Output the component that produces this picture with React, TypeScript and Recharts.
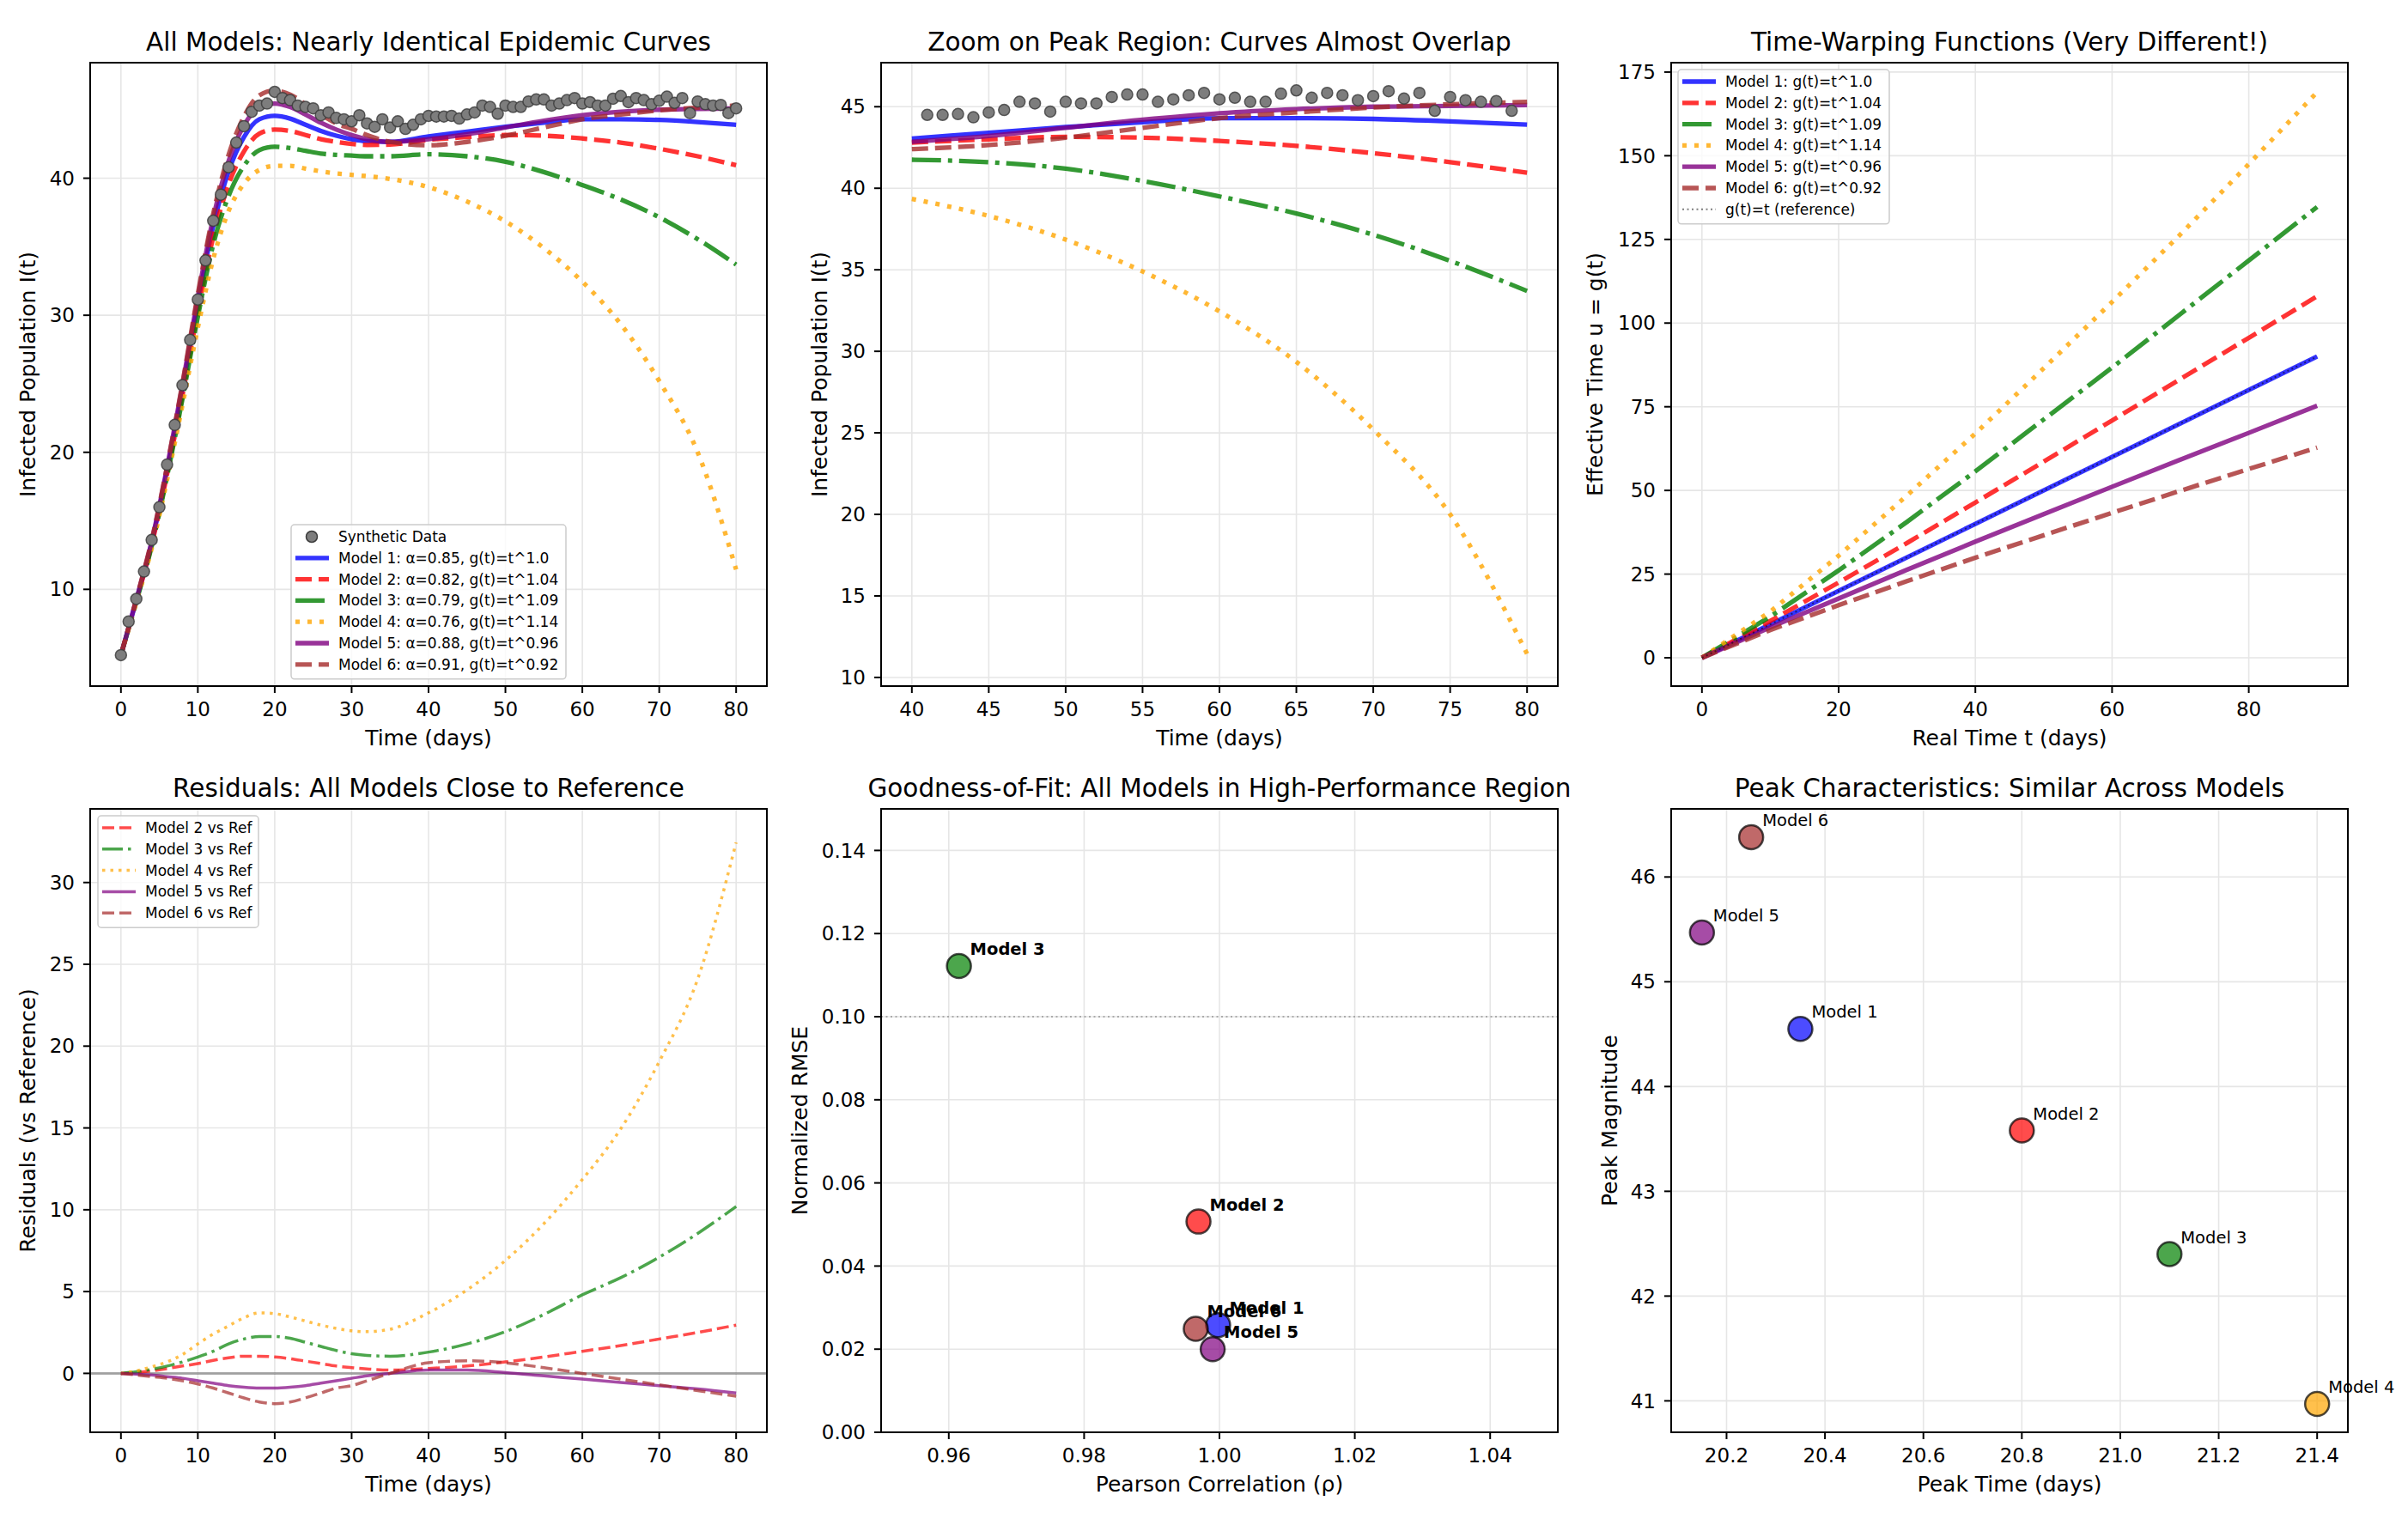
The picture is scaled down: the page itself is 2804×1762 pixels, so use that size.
import React from 'react';
import {
  ComposedChart,
  Line,
  Scatter,
  XAxis,
  YAxis,
  CartesianGrid,
  ReferenceLine,
} from 'recharts';

const FONT = '"DejaVu Sans", Verdana, sans-serif';

// ---------- data ----------

// synthetic observations, one per day from day 0 to day 80
const DATA_I = [
  5.2, 7.65, 9.3, 11.3, 13.6, 16.0, 19.1, 22.0, 24.9, 28.2,
  31.15, 34.0, 36.9, 38.8, 40.8, 42.6, 43.8, 44.85, 45.3, 45.45,
  46.3, 45.85, 45.7, 45.3, 45.2, 45.1, 44.6, 44.8, 44.4, 44.3,
  44.15, 44.6, 44.0, 43.75, 44.3, 43.7, 44.15, 43.6, 43.9, 44.3,
  44.55, 44.5, 44.5, 44.55, 44.35, 44.65, 44.8, 45.3, 45.2, 44.7,
  45.3, 45.2, 45.2, 45.6, 45.75, 45.75, 45.3, 45.45, 45.7, 45.85,
  45.45, 45.55, 45.3, 45.3, 45.8, 46.0, 45.55, 45.85, 45.7, 45.4,
  45.65, 45.95, 45.5, 45.85, 44.75, 45.6, 45.4, 45.3, 45.35, 44.75,
  45.1,
];

// model curves sampled on this time grid
const T_GRID = [0, 2, 4, 6, 8, 10, 12, 14, 16, 18, 20, 22, 24, 26, 28, 30, 32, 35, 40, 45, 50, 55, 60, 65, 70, 75, 80];
const MODEL_1 = [5.2, 9.2, 13.4, 18.7, 24.6, 30.9, 36.5, 40.5, 43.0, 44.3, 44.55, 44.35, 43.9, 43.45, 43.1, 42.85, 42.7, 42.65, 43.05, 43.4, 43.75, 44.05, 44.3, 44.3, 44.25, 44.1, 43.9];
const MODEL_2 = [5.2, 9.15, 13.25, 18.4, 24.15, 30.3, 35.7, 39.55, 41.95, 43.25, 43.55, 43.45, 43.15, 42.85, 42.65, 42.5, 42.43, 42.45, 42.8, 43.0, 43.15, 43.1, 42.9, 42.6, 42.15, 41.6, 40.95];
const MODEL_3 = [5.2, 9.1, 13.15, 18.25, 23.9, 29.9, 35.15, 38.7, 40.9, 42.05, 42.3, 42.2, 42.0, 41.8, 41.7, 41.65, 41.6, 41.6, 41.75, 41.6, 41.2, 40.45, 39.5, 38.45, 37.15, 35.55, 33.7];
const MODEL_4 = [5.2, 9.05, 13.0, 18.0, 23.45, 29.1, 34.1, 37.6, 39.6, 40.6, 40.9, 40.9, 40.7, 40.5, 40.35, 40.25, 40.15, 39.95, 39.35, 38.3, 36.85, 34.9, 32.45, 29.35, 25.2, 20.0, 11.45];
const MODEL_5 = [5.2, 9.25, 13.5, 18.9, 24.9, 31.35, 37.1, 41.25, 43.85, 45.2, 45.45, 45.2, 44.65, 44.05, 43.55, 43.15, 42.85, 42.65, 42.85, 43.2, 43.7, 44.2, 44.6, 44.85, 45.0, 45.05, 45.1];
const MODEL_6 = [5.2, 9.3, 13.6, 19.0, 25.05, 31.55, 37.4, 41.7, 44.5, 46.05, 46.4, 46.1, 45.4, 44.65, 44.0, 43.6, 43.15, 42.65, 42.4, 42.65, 43.1, 43.7, 44.3, 44.65, 44.95, 45.15, 45.3];

const MODEL_NAMES = ['Model 1', 'Model 2', 'Model 3', 'Model 4', 'Model 5', 'Model 6'];
const ALPHAS = ['0.85', '0.82', '0.79', '0.76', '0.88', '0.91'];
const EXPONENTS = ['1.0', '1.04', '1.09', '1.14', '0.96', '0.92'];

// residuals (reference minus model) on T_GRID, models 2..6
const RESID_2 = [0, 0.05, 0.15, 0.3, 0.45, 0.6, 0.8, 0.95, 1.05, 1.05, 1.0, 0.9, 0.75, 0.6, 0.45, 0.35, 0.27, 0.2, 0.3, 0.45, 0.7, 1.0, 1.35, 1.7, 2.1, 2.5, 2.95];
const RESID_3 = [0, 0.1, 0.25, 0.45, 0.7, 1.0, 1.35, 1.8, 2.1, 2.25, 2.25, 2.15, 1.9, 1.65, 1.4, 1.2, 1.1, 1.05, 1.3, 1.8, 2.55, 3.6, 4.8, 5.85, 7.1, 8.55, 10.2];
const RESID_4 = [0, 0.15, 0.4, 0.7, 1.15, 1.8, 2.4, 2.9, 3.4, 3.7, 3.65, 3.45, 3.2, 2.95, 2.75, 2.6, 2.55, 2.7, 3.7, 5.1, 6.9, 9.15, 11.85, 14.95, 19.05, 24.1, 32.45];
const RESID_5 = [0, -0.05, -0.1, -0.2, -0.3, -0.45, -0.6, -0.75, -0.85, -0.9, -0.9, -0.85, -0.75, -0.6, -0.45, -0.3, -0.15, 0.0, 0.2, 0.2, 0.05, -0.15, -0.35, -0.55, -0.75, -0.95, -1.2];
const RESID_6 = [0, -0.1, -0.2, -0.3, -0.45, -0.65, -0.9, -1.2, -1.5, -1.75, -1.85, -1.75, -1.5, -1.2, -0.9, -0.75, -0.45, 0.0, 0.65, 0.77, 0.65, 0.35, 0.0, -0.35, -0.7, -1.05, -1.4];

// time-warping functions g(t)
const WARP_T = [0, 10, 20, 30, 40, 50, 60, 70, 80, 90];
const WARP_1 = [0, 10, 20, 30, 40, 50, 60, 70, 80, 90];
const WARP_2 = [0, 11.0, 22.5, 34.3, 46.4, 58.6, 70.9, 83.3, 95.6, 108.0];
const WARP_3 = [0, 12.3, 26.1, 40.6, 55.7, 71.2, 86.7, 102.7, 118.7, 134.7];
const WARP_4 = [0, 13.8, 30.5, 48.5, 67.0, 86.5, 106.3, 126.5, 147.5, 169.0];
const WARP_5 = [0, 9.1, 17.7, 26.3, 34.7, 42.9, 51.1, 59.2, 67.2, 75.3];
const WARP_6 = [0, 8.3, 15.7, 22.9, 29.9, 36.6, 43.3, 49.9, 56.4, 62.8];
const WARP_REF = [0, 10, 20, 30, 40, 50, 60, 70, 80, 90];

// goodness of fit (model 4 falls outside the shown window)
const FIT_NAMES = ['Model 1', 'Model 2', 'Model 3', 'Model 5', 'Model 6'];
const FIT_RHO = [0.9998, 0.9969, 0.9615, 0.999, 0.9965];
const FIT_RMSE = [0.0258, 0.0507, 0.1122, 0.02, 0.0249];

// peak characteristics
const PEAK_TIME = [20.35, 20.8, 21.1, 21.4, 20.15, 20.25];
const PEAK_MAG = [44.55, 43.58, 42.4, 40.97, 45.47, 46.38];

// ---------- styles ----------

const COLORS = ['#0000ff', '#ff0000', '#008000', '#ffa500', '#800080', '#a52a2a'];
const DASH_THICK = [undefined, '19 8', '34 8 5 8', '5 9', undefined, '19 8'];
const DASH_THIN = [undefined, '14 6', '24 6 3.5 6', '3.5 6', undefined, '14 6'];

type Box = { x: number; y: number; w: number; h: number };
const P1: Box = { x: 105, y: 73, w: 788, h: 726 };
const P2: Box = { x: 1026, y: 73, w: 788, h: 726 };
const P3: Box = { x: 1946, y: 73, w: 788, h: 726 };
const P4: Box = { x: 105, y: 942, w: 788, h: 726 };
const P5: Box = { x: 1026, y: 942, w: 788, h: 726 };
const P6: Box = { x: 1946, y: 942, w: 788, h: 726 };

const PAD = 12;
const PAD_R = 68; // room on the right for point labels past the frame
const YW = 120;
const XH = 60;
const TICK = { fill: '#000', fontSize: 23, fontFamily: FONT };
const TICK_LINE = { stroke: '#000', strokeWidth: 2 };

const pts = (xs: number[], ys: number[]) => xs.map((x, i) => ({ x, y: ys[i] }));

type PlotProps = {
  box: Box;
  xDomain: [number, number];
  xTicks: number[];
  yDomain: [number, number];
  yTicks: number[];
  xFmt?: (v: number) => string;
  yFmt?: (v: number) => string;
  clip?: boolean;
  children: React.ReactNode;
};

function Plot({ box, xDomain, xTicks, yDomain, yTicks, xFmt, yFmt, clip = true, children }: PlotProps) {
  return (
    <div style={{ position: 'absolute', left: box.x - YW, top: box.y - PAD }}>
      <ComposedChart
        width={box.w + YW + PAD_R}
        height={box.h + PAD + XH}
        margin={{ top: PAD, right: PAD_R, bottom: 0, left: 0 }}
      >
        <CartesianGrid stroke="#e6e6e6" strokeWidth={1.6} />
        <XAxis
          type="number"
          dataKey="x"
          domain={xDomain}
          ticks={xTicks}
          tickFormatter={xFmt}
          allowDataOverflow={clip}
          interval={0}
          height={XH}
          axisLine={false}
          tickSize={8}
          tickMargin={11}
          tick={TICK}
          tickLine={TICK_LINE}
        />
        <YAxis
          type="number"
          dataKey="y"
          domain={yDomain}
          ticks={yTicks}
          tickFormatter={yFmt}
          allowDataOverflow={clip}
          interval={0}
          width={YW}
          axisLine={false}
          tickSize={8}
          tickMargin={10}
          tick={TICK}
          tickLine={TICK_LINE}
        />
        {children}
      </ComposedChart>
    </div>
  );
}

const dataDot = (props: any) => (
  <circle cx={props.cx} cy={props.cy} r={6.5} fill="#7d7d7d" stroke="#3a3a3a" strokeOpacity={0.8} strokeWidth={1.5} />
);

function modelLines(minX: number) {
  const series = [MODEL_1, MODEL_2, MODEL_3, MODEL_4, MODEL_5, MODEL_6];
  return series.map((vals, k) => (
    <Line
      key={'m' + k}
      data={pts(T_GRID, vals).filter((p) => p.x >= minX)}
      dataKey="y"
      type="monotone"
      stroke={COLORS[k]}
      strokeOpacity={0.8}
      strokeWidth={5.3}
      strokeDasharray={DASH_THICK[k]}
      dot={false}
      activeDot={false}
      isAnimationActive={false}
    />
  ));
}

const bubble = (props: any) => {
  const p = props.payload ?? props;
  return (
    <circle cx={props.cx} cy={props.cy} r={14} fill={p.color} fillOpacity={0.7} stroke="#000" strokeOpacity={0.7} strokeWidth={2.5} />
  );
};

function bubbleLabel(bold: boolean) {
  return (props: any) => {
    const p = props.payload ?? props;
    return (
      <text x={props.cx + 13} y={props.cy - 13} fontSize={19.5} fontWeight={bold ? 'bold' : 'normal'} fontFamily={FONT} fill="#000">
        {p.name}
      </text>
    );
  };
}

// ---------- overlay: titles, axis labels, frames, legends ----------

type LegendItem = { label: string; color: string; opacity: number; width: number; dash?: string; marker?: boolean };

function LegendBox({ x, y, w, items }: { x: number; y: number; w: number; items: LegendItem[] }) {
  const step = 24.8;
  const h = 14 + step * (items.length - 1) + 17;
  return (
    <g>
      <rect x={x} y={y} width={w} height={h} rx={4} fill="#fff" fillOpacity={0.8} stroke="#cccccc" strokeWidth={1.5} />
      {items.map((it, i) => {
        const cy = y + 14 + i * step;
        return (
          <g key={i}>
            {it.marker ? (
              <circle cx={x + 24} cy={cy} r={6.5} fill="#7d7d7d" stroke="#3a3a3a" strokeWidth={1.5} />
            ) : (
              <line x1={x + 5} x2={x + 44} y1={cy} y2={cy} stroke={it.color} strokeOpacity={it.opacity} strokeWidth={it.width} strokeDasharray={it.dash} />
            )}
            <text x={x + 55} y={cy + 6} fontSize={17} fontFamily={FONT} fill="#000">
              {it.label}
            </text>
          </g>
        );
      })}
    </g>
  );
}

function Decor({ box, title, xLabel, yLabel, yOff }: { box: Box; title: string; xLabel: string; yLabel: string; yOff: number }) {
  const cx = box.x + box.w / 2;
  const cy = box.y + box.h / 2;
  return (
    <g fontFamily={FONT} fill="#000">
      <rect x={box.x} y={box.y} width={box.w} height={box.h} fill="none" stroke="#000" strokeWidth={2} />
      <text x={cx} y={box.y - 14} fontSize={29.5} textAnchor="middle">{title}</text>
      <text x={cx} y={box.y + box.h + 69} fontSize={25} textAnchor="middle">{xLabel}</text>
      <text x={box.x - yOff} y={cy} fontSize={25} textAnchor="middle" transform={`rotate(-90 ${box.x - yOff} ${cy})`}>
        {yLabel}
      </text>
    </g>
  );
}

export default function App() {
  const dataPts = DATA_I.map((v, i) => ({ x: i, y: v }));
  const zoomPts = dataPts.filter((p) => p.x > 40 && p.x < 80);
  const warps = [WARP_1, WARP_2, WARP_3, WARP_4, WARP_5, WARP_6];
  const resids = [RESID_2, RESID_3, RESID_4, RESID_5, RESID_6];
  const fitData = FIT_NAMES.map((name, i) => ({
    x: FIT_RHO[i],
    y: FIT_RMSE[i],
    name,
    color: COLORS[MODEL_NAMES.indexOf(name)],
  }));
  const peakData = MODEL_NAMES.map((name, i) => ({ x: PEAK_TIME[i], y: PEAK_MAG[i], name, color: COLORS[i] }));

  const legend1: LegendItem[] = [
    { label: 'Synthetic Data', color: '#808080', opacity: 1, width: 0, marker: true },
    ...MODEL_NAMES.map((n, k) => ({
      label: `${n}: α=${ALPHAS[k]}, g(t)=t^${EXPONENTS[k]}`,
      color: COLORS[k],
      opacity: 0.8,
      width: 5.3,
      dash: DASH_THICK[k],
    })),
  ];
  const legend3: LegendItem[] = [
    ...MODEL_NAMES.map((n, k) => ({
      label: `${n}: g(t)=t^${EXPONENTS[k]}`,
      color: COLORS[k],
      opacity: 0.8,
      width: 5.3,
      dash: DASH_THICK[k],
    })),
    { label: 'g(t)=t (reference)', color: '#000', opacity: 0.5, width: 2, dash: '2 3.5' },
  ];
  const legend4: LegendItem[] = MODEL_NAMES.slice(1).map((n, j) => ({
    label: `${n} vs Ref`,
    color: COLORS[j + 1],
    opacity: 0.7,
    width: 3.5,
    dash: DASH_THIN[j + 1],
  }));

  return (
    <div style={{ position: 'absolute', left: 0, top: 0, width: 2804, height: 1762, background: '#fff', overflow: 'hidden' }}>
      <Plot box={P1} xDomain={[-4, 84]} xTicks={[0, 10, 20, 30, 40, 50, 60, 70, 80]} yDomain={[2.94, 48.43]} yTicks={[10, 20, 30, 40]}>
        <Scatter data={dataPts} shape={dataDot} isAnimationActive={false} />
        {modelLines(0)}
      </Plot>

      <Plot box={P2} xDomain={[38, 82]} xTicks={[40, 45, 50, 55, 60, 65, 70, 75, 80]} yDomain={[9.47, 47.7]} yTicks={[10, 15, 20, 25, 30, 35, 40, 45]}>
        <Scatter data={zoomPts} shape={dataDot} isAnimationActive={false} />
        {modelLines(40)}
      </Plot>

      <Plot box={P3} xDomain={[-4.5, 94.5]} xTicks={[0, 20, 40, 60, 80]} yDomain={[-8.46, 177.8]} yTicks={[0, 25, 50, 75, 100, 125, 150, 175]}>
        {warps.map((vals, k) => (
          <Line
            key={'w' + k}
            data={pts(WARP_T, vals)}
            dataKey="y"
            type="linear"
            stroke={COLORS[k]}
            strokeOpacity={0.8}
            strokeWidth={5.3}
            strokeDasharray={DASH_THICK[k]}
            dot={false}
            activeDot={false}
            isAnimationActive={false}
          />
        ))}
        <Line
          data={pts(WARP_T, WARP_REF)}
          dataKey="y"
          type="linear"
          stroke="#000"
          strokeOpacity={0.5}
          strokeWidth={2}
          strokeDasharray="2 3.5"
          dot={false}
          activeDot={false}
          isAnimationActive={false}
        />
      </Plot>

      <Plot box={P4} xDomain={[-4, 84]} xTicks={[0, 10, 20, 30, 40, 50, 60, 70, 80]} yDomain={[-3.6, 34.5]} yTicks={[0, 5, 10, 15, 20, 25, 30]}>
        <ReferenceLine y={0} stroke="#000" strokeOpacity={0.3} strokeWidth={3} />
        {resids.map((vals, j) => (
          <Line
            key={'r' + j}
            data={pts(T_GRID, vals)}
            dataKey="y"
            type="monotone"
            stroke={COLORS[j + 1]}
            strokeOpacity={0.7}
            strokeWidth={3.5}
            strokeDasharray={DASH_THIN[j + 1]}
            dot={false}
            activeDot={false}
            isAnimationActive={false}
          />
        ))}
      </Plot>

      <Plot
        box={P5}
        xDomain={[0.95, 1.05]}
        xTicks={[0.96, 0.98, 1.0, 1.02, 1.04]}
        xFmt={(v) => v.toFixed(2)}
        yDomain={[0, 0.15]}
        yTicks={[0, 0.02, 0.04, 0.06, 0.08, 0.1, 0.12, 0.14]}
        yFmt={(v) => v.toFixed(2)}
        clip={false}
      >
        <ReferenceLine y={0.1} stroke="#808080" strokeOpacity={0.6} strokeWidth={2} strokeDasharray="2 3.5" />
        <Scatter data={fitData} shape={bubble} isAnimationActive={false} />
        <Scatter data={fitData} shape={bubbleLabel(true)} isAnimationActive={false} />
      </Plot>

      <Plot
        box={P6}
        xDomain={[20.0875, 21.4625]}
        xTicks={[20.2, 20.4, 20.6, 20.8, 21.0, 21.2, 21.4]}
        xFmt={(v) => v.toFixed(1)}
        yDomain={[40.7, 46.65]}
        yTicks={[41, 42, 43, 44, 45, 46]}
        clip={false}
      >
        <Scatter data={peakData} shape={bubble} isAnimationActive={false} />
        <Scatter data={peakData} shape={bubbleLabel(false)} isAnimationActive={false} />
      </Plot>

      <svg width={2804} height={1762} style={{ position: 'absolute', left: 0, top: 0, pointerEvents: 'none' }}>
        <Decor box={P1} title="All Models: Nearly Identical Epidemic Curves" xLabel="Time (days)" yLabel="Infected Population I(t)" yOff={64} />
        <Decor box={P2} title="Zoom on Peak Region: Curves Almost Overlap" xLabel="Time (days)" yLabel="Infected Population I(t)" yOff={63} />
        <Decor box={P3} title="Time-Warping Functions (Very Different!)" xLabel="Real Time t (days)" yLabel="Effective Time u = g(t)" yOff={80} />
        <Decor box={P4} title="Residuals: All Models Close to Reference" xLabel="Time (days)" yLabel="Residuals (vs Reference)" yOff={64} />
        <Decor box={P5} title="Goodness-of-Fit: All Models in High-Performance Region" xLabel="Pearson Correlation (ρ)" yLabel="Normalized RMSE" yOff={86} />
        <Decor box={P6} title="Peak Characteristics: Similar Across Models" xLabel="Peak Time (days)" yLabel="Peak Magnitude" yOff={63} />
        <LegendBox x={339} y={611} w={320} items={legend1} />
        <LegendBox x={1954} y={81} w={246} items={legend3} />
        <LegendBox x={114} y={950} w={187} items={legend4} />
      </svg>
    </div>
  );
}
